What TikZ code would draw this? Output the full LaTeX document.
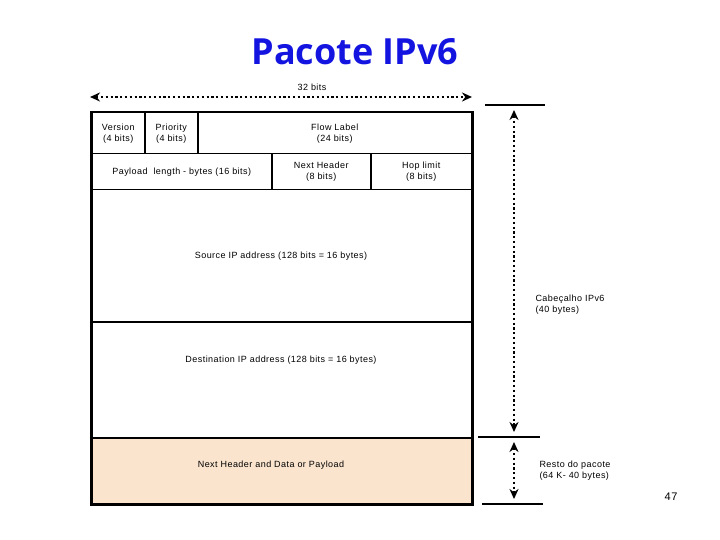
\documentclass[tikz,border=0pt]{standalone}
\usepackage{fontspec}
\setmainfont{Liberation Sans}[LetterSpace=5]
\newfontfamily\titlefont{Open Sans}
\usetikzlibrary{arrows.meta,positioning}
\definecolor{titleblue}{RGB}{20,20,225}
\definecolor{peach}{RGB}{250,228,206}

\begin{document}
\begin{tikzpicture}[x=1pt,y=-1pt,every node/.style={font=\fontsize{9}{11}\selectfont},
  cell/.style={draw, line width=1.5pt, anchor=north west, inner sep=0pt, align=center},
  span/.style={line width=2.2pt, dash pattern=on 2.2pt off 2.6pt, {Stealth[length=10pt,width=9pt]}-{Stealth[length=10pt,width=9pt]}},
  tick/.style={line width=2.2pt}]
\useasboundingbox (0,0) rectangle (720,540);
\node[font=\titlefont\bfseries\fontsize{36}{40}\selectfont, text=titleblue] (title) at (355,52) {Pacote IPv6};
% header rows
\node[cell, minimum width=53pt, minimum height=41pt] (ver) at (91,112) {Version\\(4 bits)};
\node[cell, minimum width=53pt, minimum height=41pt] (prio) at (144,112) {Priority\\(4 bits)};
\node[cell, minimum width=274pt, minimum height=41pt] (flow) at (197,112) {Flow Label\\(24 bits)};
\node[cell, minimum width=180pt, minimum height=36pt] (plen) at (91,153) {Payload\ \ length - bytes (16 bits)};
\node[cell, minimum width=99pt, minimum height=36pt] (nxt) at (271,153) {Next Header\\(8 bits)};
\node[cell, minimum width=101pt, minimum height=36pt] (hop) at (370,153) {Hop limit\\(8 bits)};
\node[cell, minimum width=380pt, minimum height=132pt] (src) at (91,189) {};
\node (srctxt) at (281,256) {Source IP address (128 bits = 16 bytes)};
\node[cell, minimum width=380pt, minimum height=116pt] (dst) at (91,321) {};
\node (dsttxt) at (281,360) {Destination IP address (128 bits = 16 bytes)};
\node[cell, fill=peach, minimum width=380pt, minimum height=66pt] (data) at (91,437) {};
\node (datatxt) at (271,465) {Next Header and Data or Payload};
\draw[line width=2.8pt] (ver.north west) rectangle (data.south east);
% widths and lengths
\node (bits) at (312,87) {32 bits};
\coordinate (wl) at (90,97);
\coordinate (wr) at (472,97);
\draw[span] (wl) -- (wr);
\coordinate (htop) at (514,105);
\coordinate (hmid) at (514,437);
\coordinate (hbot) at (514,504);
\draw[tick] (485,105) -- (545,105);
\draw[tick] (478,437) -- (540,437);
\draw[tick] (482,504) -- (543,504);
\draw[span] ([yshift=-5pt]htop) -- ([yshift=5pt]hmid);
\draw[span] ([yshift=-5pt]hmid) -- ([yshift=5pt]hbot);
\node[anchor=west, align=left] (hdr) at (532,305) {Cabeçalho IPv6\\(40 bytes)};
\node[anchor=west, align=left] (rest) at (536,471) {Resto do pacote\\(64 K- 40 bytes)};
\node[font=\fontsize{11}{13}\selectfont] (page) at (671,497) {47};
\end{tikzpicture}
\end{document}
